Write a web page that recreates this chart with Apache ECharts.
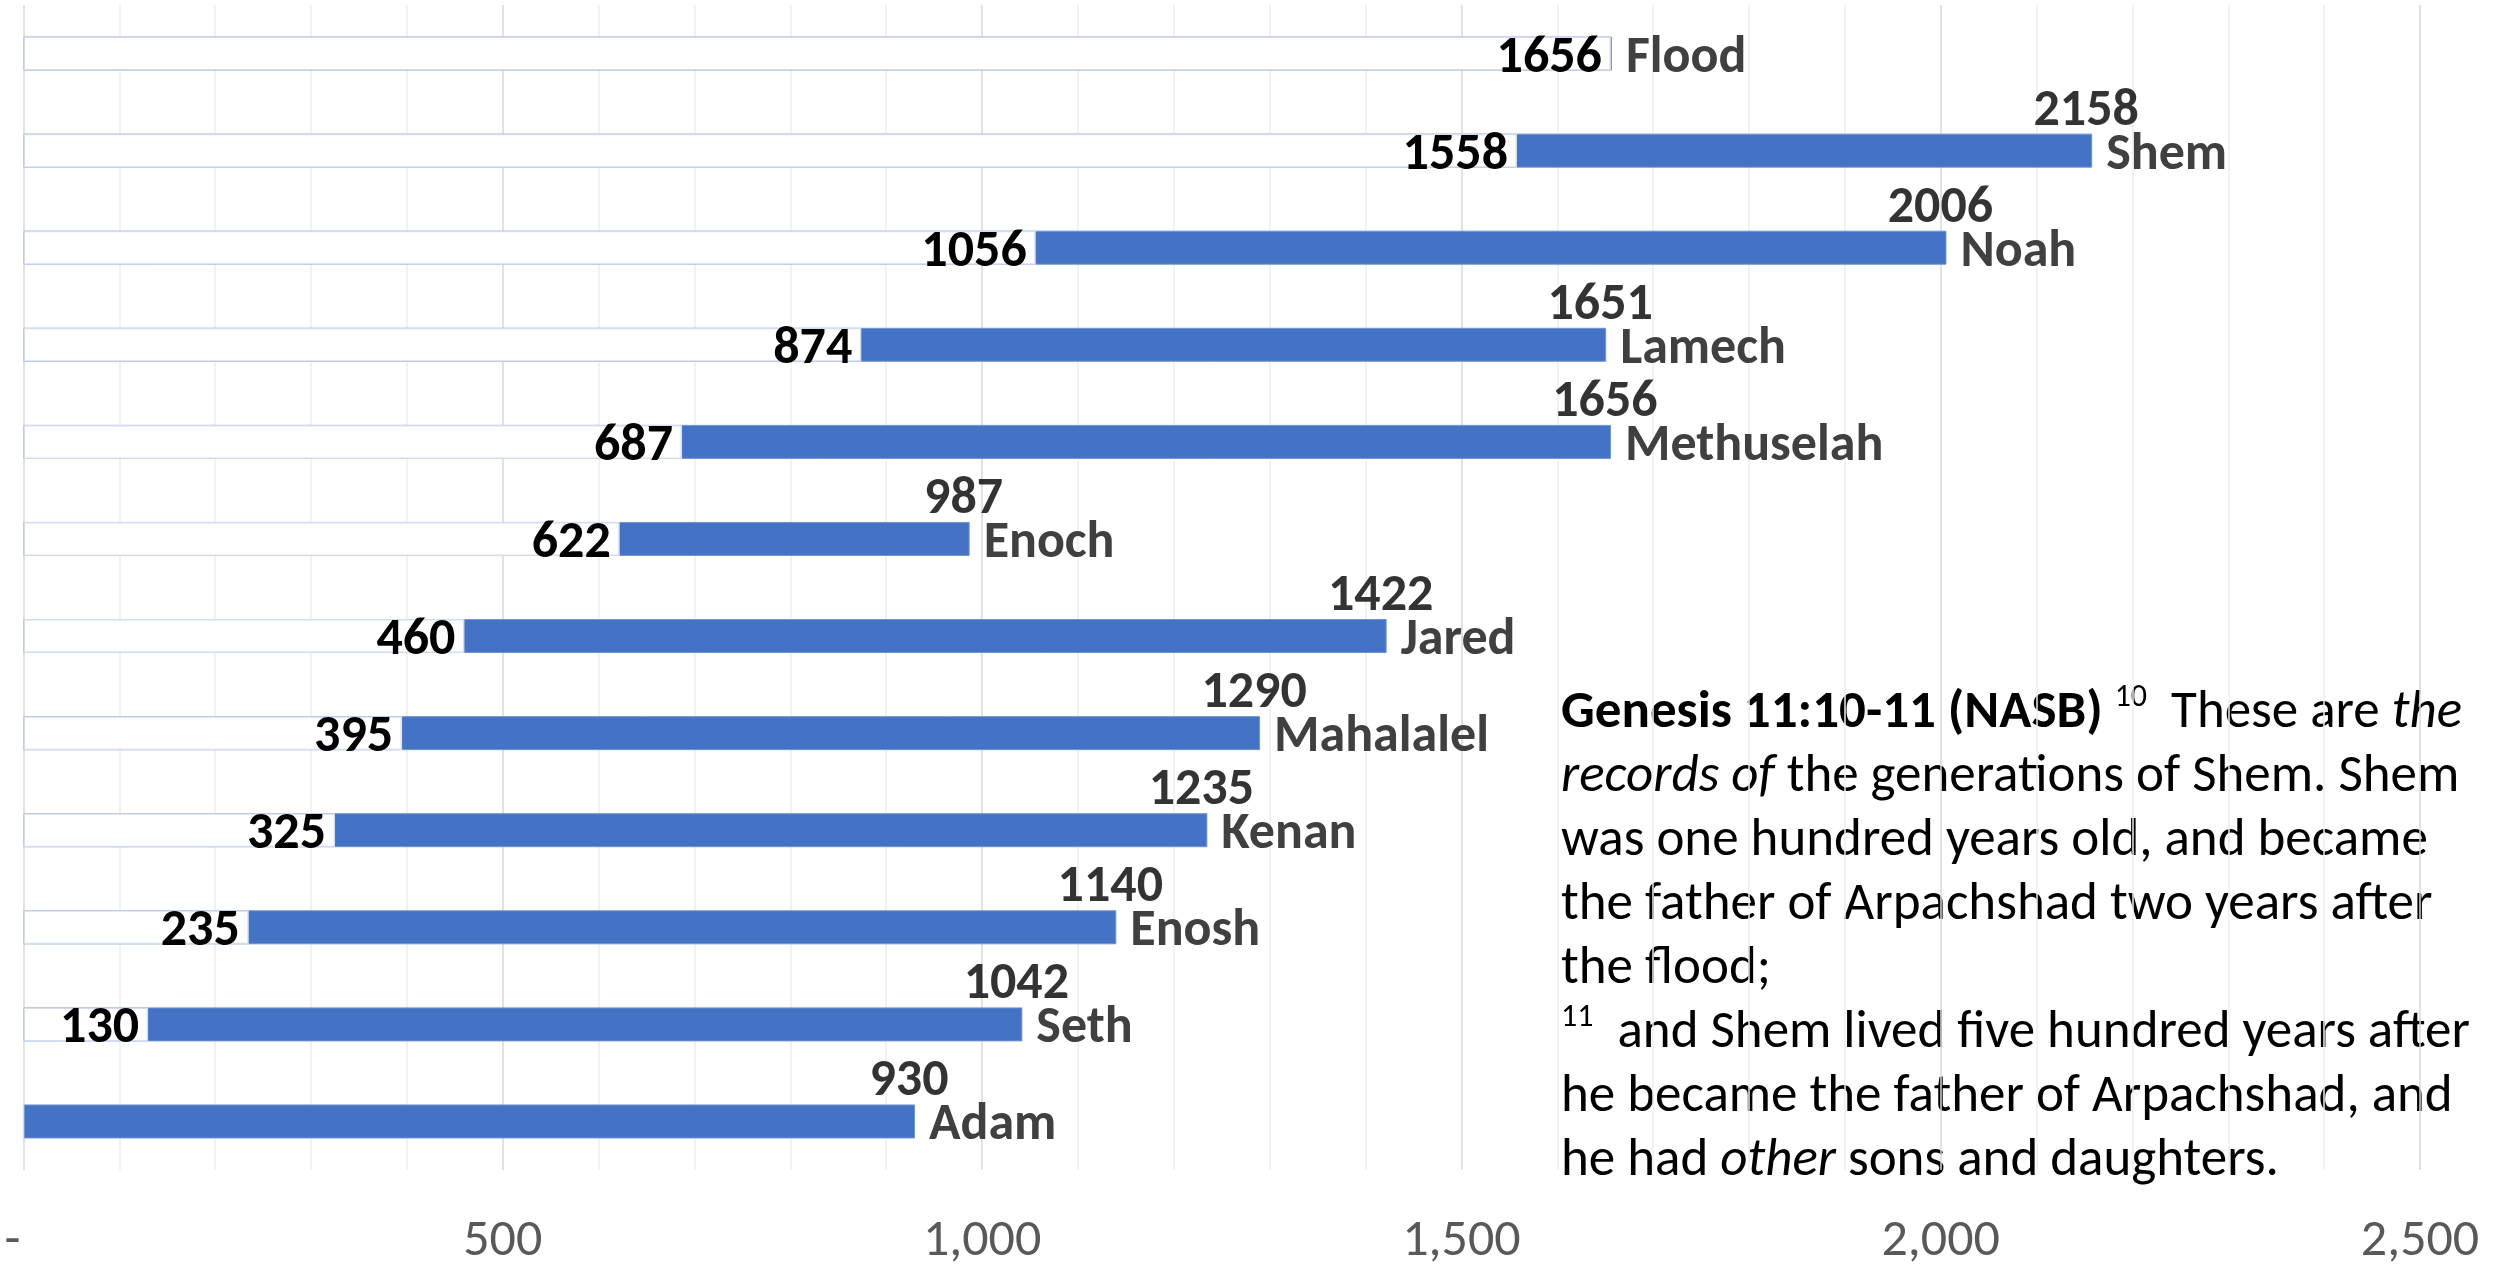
<!DOCTYPE html>
<html>
<head>
<meta charset="utf-8">
<script src="https://cdn.jsdelivr.net/npm/echarts@6/dist/echarts.min.js"></script>
<style>
html, body { margin: 0; padding: 0; background: #fff; }
#chart-timeline { width: 2496px; height: 1264px; }
</style>
</head>
<body>
<div id="chart-timeline"></div>
<script>
// patriarchs, bottom row first
var names = ['Adam', 'Seth', 'Enosh', 'Kenan', 'Mahalalel', 'Jared', 'Enoch', 'Methuselah', 'Lamech', 'Noah', 'Shem', 'Flood']
// year born (from creation)
var born = [0, 130, 235, 325, 395, 460, 622, 687, 874, 1056, 1558, 1656]
// year died (flood row is just a one-year sliver)
var died = [930, 1042, 1140, 1235, 1290, 1422, 987, 1656, 1651, 2006, 2158, 1657]
// print the death year above the bar?
var showDied = [true, true, true, true, true, true, true, true, true, true, true, false]
// x axis ticks
var xTicks = [0, 500, 1000, 1500, 2000, 2500]

var verse = [
  '{b|Genesis 11:10-11 (NASB)} {s|10}  These are {i|the}',
  '{i|records of} the generations of Shem. Shem',
  'was one hundred years old, and became',
  'the father of Arpachshad two years after',
  'the flood;',
  '{s|11}  and Shem lived five hundred years after',
  'he became the father of Arpachshad, and',
  'he had {i|other} sons and daughters.'
]

var font = 'Carlito, Lato, sans-serif'
var labelSize = 52
var verseSize = 53

var myChart = echarts.init(document.getElementById('chart-timeline'))

var endData = []
for (var i = 0; i < died.length; i++) {
  endData.push({ value: [died[i], i], label: { show: showDied[i] } })
}

var option = {
  backgroundColor: '#fff',
  animation: false,
  grid: {
    left: 23.5,
    right: 76,
    top: 5,
    height: 1165,
    containLabel: false,
    outerBoundsMode: 'none'
  },
  xAxis: {
    type: 'value',
    min: xTicks[0],
    max: xTicks[xTicks.length - 1],
    interval: xTicks[1] - xTicks[0],
    axisLine: { show: false },
    axisTick: { show: false },
    axisLabel: {
      color: '#595959',
      fontSize: labelSize,
      fontFamily: font,
      margin: 46,
      formatter: function (v) {
        if (v === 0) return '{d|-}'
        return v.toLocaleString('en-US')
      },
      rich: {
        d: { fontSize: labelSize, fontFamily: font, color: '#595959', padding: [0, 22, 0, 0] }
      }
    },
    splitLine: { lineStyle: { color: '#d9d9d9', width: 1.5 } },
    minorTick: { show: false, splitNumber: 5 },
    minorSplitLine: { show: true, lineStyle: { color: '#eeeeee', width: 1.5 } }
  },
  yAxis: {
    type: 'category',
    data: names,
    axisLine: { show: false },
    axisTick: { show: false },
    axisLabel: { show: false },
    splitLine: { show: false }
  },
  series: [
    {
      name: 'life',
      type: 'bar',
      data: died,
      barWidth: 34,
      itemStyle: { color: '#4472C4', borderColor: '#6f93d2', borderWidth: 1 },
      label: {
        show: true,
        position: 'right',
        distance: 14,
        offset: [0, 5],
        color: '#404040',
        fontWeight: 'bold',
        fontSize: labelSize,
        fontFamily: font,
        formatter: function (p) { return names[p.dataIndex] }
      }
    },
    {
      name: 'born',
      type: 'bar',
      data: born,
      barWidth: 34,
      barGap: '-100%',
      itemStyle: { color: '#ffffff', borderColor: '#d3ddef', borderWidth: 1.5 },
      label: {
        show: true,
        position: 'insideRight',
        distance: 9,
        offset: [0, 5],
        color: '#000',
        fontWeight: 'bold',
        fontSize: labelSize,
        fontFamily: font,
        formatter: function (p) { return p.value ? String(p.value) : '' }
      }
    },
    {
      name: 'died',
      type: 'scatter',
      data: endData,
      symbol: 'rect',
      symbolSize: [2, 34],
      silent: true,
      itemStyle: { color: 'rgba(0,0,0,0)' },
      label: {
        position: 'top',
        distance: -4,
        offset: [-6, 0],
        color: '#000',
        fontWeight: 'bold',
        fontSize: labelSize,
        fontFamily: font,
        formatter: function (p) { return String(p.value[0]) }
      }
    }
  ],
  graphic: [
    {
      type: 'text',
      left: 1561,
      top: 682,
      style: {
        text: verse.join('\n'),
        fill: '#000',
        fontSize: verseSize,
        fontFamily: font,
        lineHeight: 64,
        rich: {
          b: { fontSize: verseSize, fontFamily: font, fontWeight: 'bold', lineHeight: 64 },
          i: { fontSize: verseSize, fontFamily: font, fontStyle: 'italic', lineHeight: 64 },
          s: { fontSize: 32, fontFamily: font, verticalAlign: 'top', lineHeight: 40 }
        }
      }
    }
  ]
}

myChart.setOption(option)
</script>
</body>
</html>
